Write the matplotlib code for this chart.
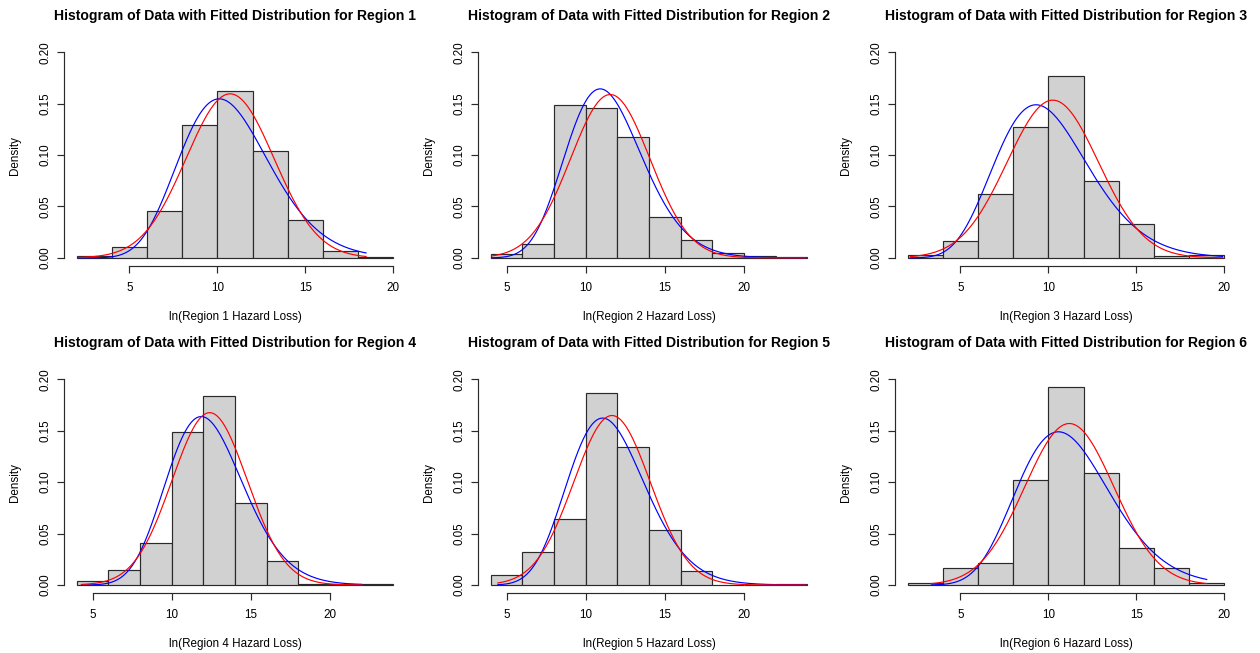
"""
Histograms of ln(hazard loss) per region with fitted normal / gamma densities
"""

import math

import matplotlib
matplotlib.use("Agg")
import matplotlib.pyplot as plt
import numpy as np

# ── data ──
REGIONS = [1, 2, 3, 4, 5, 6]
BIN_START = [2, 4, 2, 4, 4, 2]
BIN_WIDTH = 2

DENSITY_R1 = [0.002, 0.011, 0.046, 0.129, 0.1625, 0.1037, 0.037, 0.0065, 0.0008]
DENSITY_R2 = [0.0039, 0.0138, 0.149, 0.1456, 0.118, 0.040, 0.0177, 0.0045, 0.0023, 0.0005]
DENSITY_R3 = [0.0026, 0.0168, 0.062, 0.127, 0.177, 0.075, 0.0326, 0.0023, 0.0029]
DENSITY_R4 = [0.0039, 0.0149, 0.0405, 0.149, 0.1835, 0.0796, 0.0236, 0.0006, 0.0012, 0.0008]
DENSITY_R5 = [0.010, 0.032, 0.0645, 0.1865, 0.134, 0.053, 0.0139, 0.0003, 0.0, 0.0008]
DENSITY_R6 = [0.002, 0.0162, 0.0214, 0.102, 0.1925, 0.1094, 0.0356, 0.0168, 0.0023]
DENSITIES = [DENSITY_R1, DENSITY_R2, DENSITY_R3, DENSITY_R4, DENSITY_R5, DENSITY_R6]

# fitted parameters (red = normal, blue = gamma)
NORM_MEAN = [10.72, 11.55, 10.25, 12.40, 11.66, 11.19]
NORM_SD = [2.50, 2.51, 2.60, 2.38, 2.42, 2.54]
GAMMA_SHAPE = [16.52, 21.40, 13.22, 24.93, 21.46, 16.75]
GAMMA_SCALE = [0.651, 0.535, 0.761, 0.496, 0.541, 0.671]

# range of the observed data (curves drawn over it)
DATA_MIN = [2.1, 4.05, 2.15, 4.3, 4.45, 3.35]
DATA_MAX = [18.45, 23.9, 19.9, 22.0, 23.9, 19.0]

X_TICKS = [5, 10, 15, 20]
Y_TICKS = [0.0, 0.05, 0.10, 0.15, 0.20]
Y_TICK_LABELS = ["0.00", "0.05", "0.10", "0.15", "0.20"]

# ── style ──
FONT = ["Liberation Sans", "DejaVu Sans"]
BAR_FILL = "#d1d1d1"
EDGE = "#2a2a2a"
plt.rcParams["font.family"] = FONT

COL_LEFT = [0.0508, 0.3794, 0.7103]
ROW_BOTTOM = [0.5925, 0.0916]
AX_W, AX_H = 0.2714, 0.340


def normal_pdf(x, mu, sd):
    return np.exp(-0.5 * ((x - mu) / sd) ** 2) / (sd * math.sqrt(2 * math.pi))


def gamma_pdf(x, k, theta):
    return np.exp((k - 1) * np.log(x) - x / theta - math.lgamma(k) - k * math.log(theta))


fig = plt.figure(figsize=(12.6, 6.53), dpi=100)

for i, region in enumerate(REGIONS):
    ax = fig.add_axes([COL_LEFT[i % 3], ROW_BOTTOM[i // 3], AX_W, AX_H])
    dens = DENSITIES[i]
    edges = BIN_START[i] + BIN_WIDTH * np.arange(len(dens) + 1)

    ax.bar(edges[:-1], dens, width=BIN_WIDTH, align="edge",
           color=BAR_FILL, edgecolor=EDGE, linewidth=0.85)

    xs = np.linspace(DATA_MIN[i], DATA_MAX[i], 400)
    ax.plot(xs, gamma_pdf(xs, GAMMA_SHAPE[i], GAMMA_SCALE[i]), color="blue", lw=0.85)
    ax.plot(xs, normal_pdf(xs, NORM_MEAN[i], NORM_SD[i]), color="red", lw=0.85)

    # R-style axis extents (4% padding around breaks / ylim)
    span = edges[-1] - edges[0]
    ax.set_xlim(edges[0] - 0.04 * span, edges[-1] + 0.04 * span)
    ax.set_ylim(-0.008, 0.208)

    for side in ("top", "right"):
        ax.spines[side].set_visible(False)
    ax.spines["left"].set_bounds(Y_TICKS[0], Y_TICKS[-1])
    ax.spines["bottom"].set_bounds(X_TICKS[0], X_TICKS[-1])
    for side in ("left", "bottom"):
        ax.spines[side].set_color(EDGE)
        ax.spines[side].set_linewidth(0.85)

    ax.set_xticks(X_TICKS)
    ax.set_xticklabels([str(t) for t in X_TICKS])
    ax.set_yticks(Y_TICKS)
    ax.set_yticklabels(Y_TICK_LABELS, rotation=90, va="center")
    ax.tick_params(direction="out", length=5, width=0.85, color=EDGE, labelsize=8.4)
    ax.tick_params(axis="x", pad=6.5)
    ax.tick_params(axis="y", pad=4)

    ax.text(0.5, 1 + 28.5 / 222, f"Histogram of Data with Fitted Distribution for Region {region}",
            transform=ax.transAxes, ha="center", va="center",
            fontsize=10.1, fontweight="bold")
    ax.text(0.5, -51 / 222, f"ln(Region {region} Hazard Loss)",
            transform=ax.transAxes, ha="center", va="center", fontsize=8.4)
    ax.text(-49 / 342, 0.5, "Density", transform=ax.transAxes, rotation=90,
            ha="center", va="center", fontsize=8.4)

fig.savefig("out.png", dpi=100, facecolor="white")
